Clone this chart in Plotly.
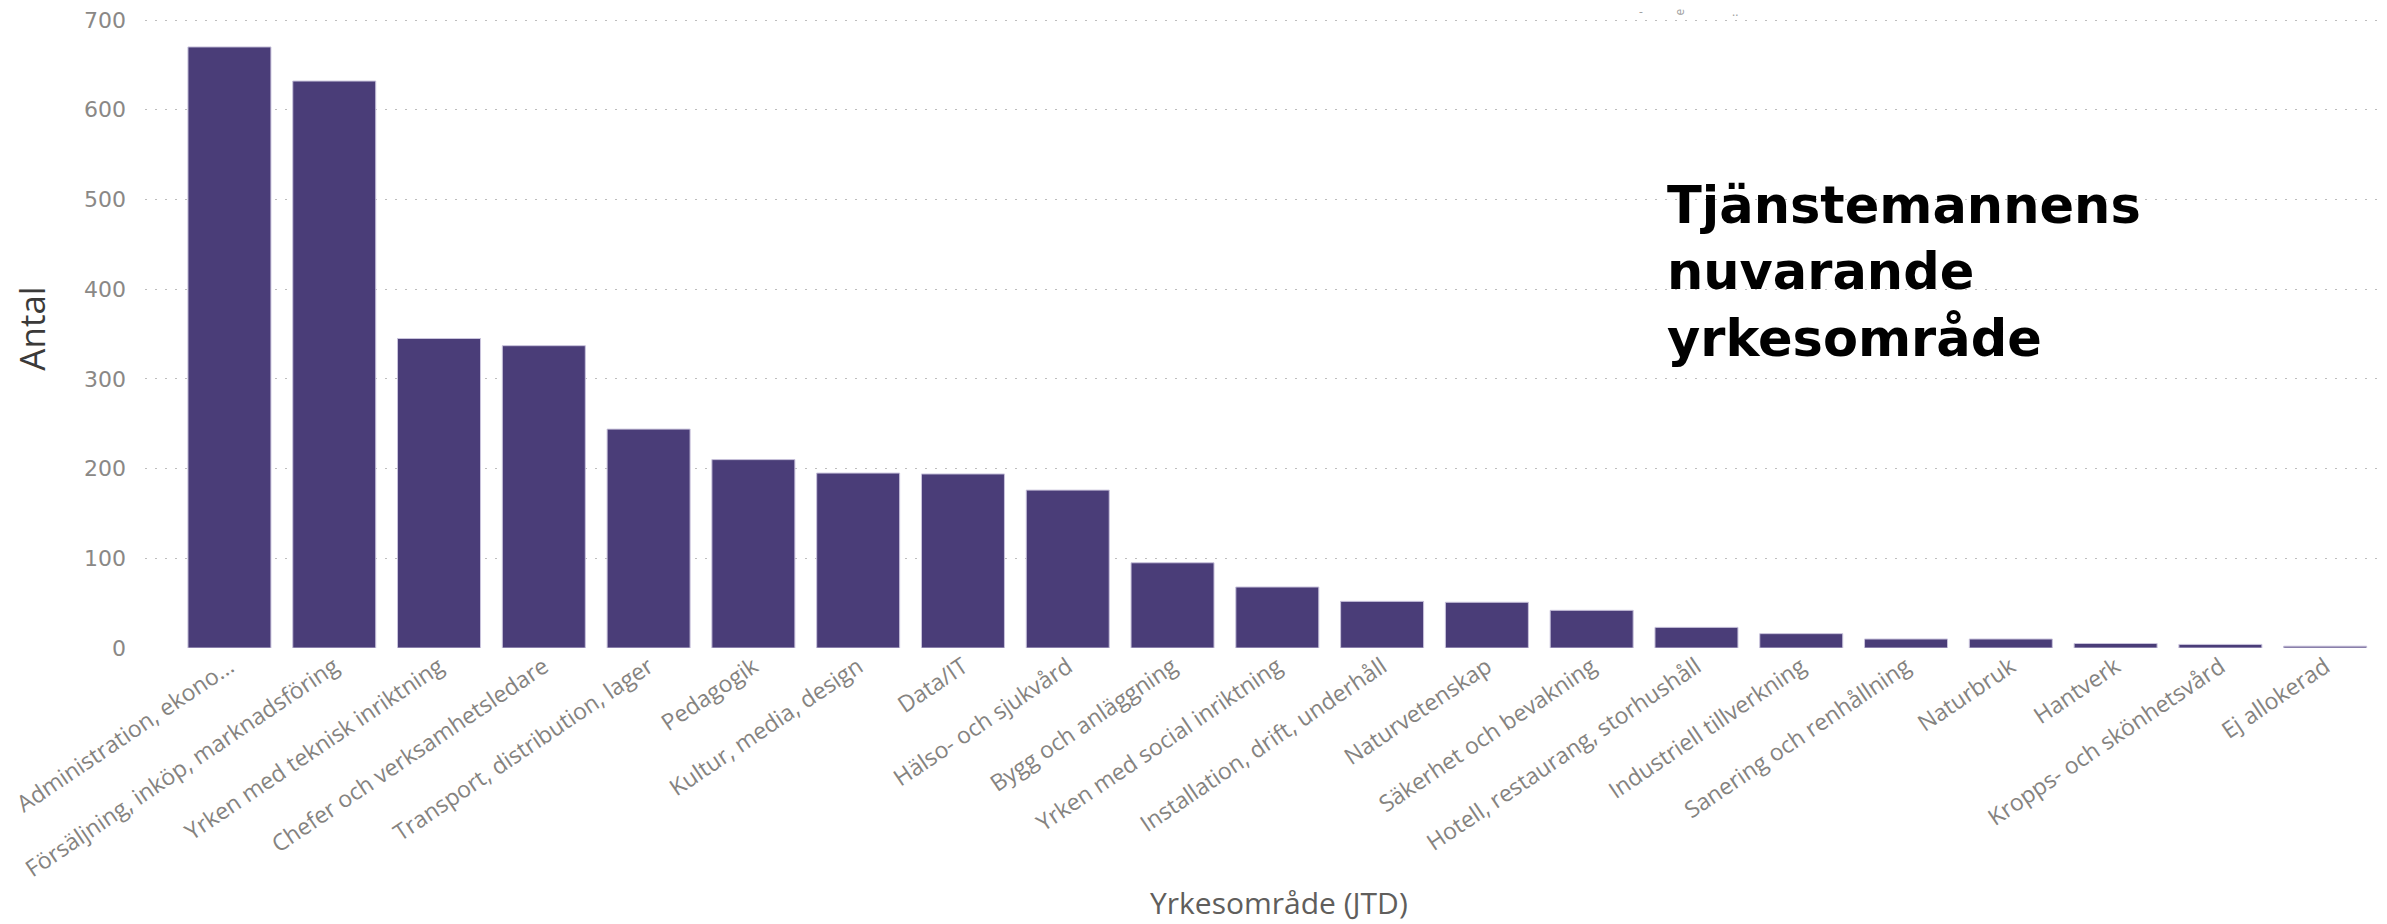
import plotly.graph_objects as go

categories = [
    "Administration, ekono...",
    "Försäljning, inköp, marknadsföring",
    "Yrken med teknisk inriktning",
    "Chefer och verksamhetsledare",
    "Transport, distribution, lager",
    "Pedagogik",
    "Kultur, media, design",
    "Data/IT",
    "Hälso- och sjukvård",
    "Bygg och anläggning",
    "Yrken med social inriktning",
    "Installation, drift, underhåll",
    "Naturvetenskap",
    "Säkerhet och bevakning",
    "Hotell, restaurang, storhushåll",
    "Industriell tillverkning",
    "Sanering och renhållning",
    "Naturbruk",
    "Hantverk",
    "Kropps- och skönhetsvård",
    "Ej allokerad",
]
values = [670, 632, 345, 337, 244, 210, 195, 194, 176, 95, 68, 52, 51, 42, 23, 16, 10, 10, 5, 4, 2]
y_ticks = [0, 100, 200, 300, 400, 500, 600, 700]

# the page body adds an 8px offset, so the figure is 8px smaller and
# all page coordinates below are shifted by 8px
OFF = 8
W, H = 2387 - OFF, 924 - OFF
# plot area on the page: left 145, top 9, bottom 648
ML, MR, MT, MB = 145 - OFF, 0, 1, 276
Y_TOP = 712.3  # value at the top edge of the plot area (700 gridline sits at page y=20)


def px_x(px):
    return (px - OFF - ML) / (W - ML - MR)


def px_y(py):
    return 1 - (py - OFF - MT) / (H - MT - MB)


fig = go.Figure(
    go.Bar(
        x=list(range(len(categories))),
        y=values,
        marker=dict(color="#4a3d78", line=dict(color="#c9c3dc", width=1)),
        hoverinfo="x+y",
    )
)

fig.update_layout(
    width=W,
    height=H,
    margin=dict(l=ML, r=MR, t=MT, b=MB),
    paper_bgcolor="white",
    plot_bgcolor="white",
    bargap=0.208,
    showlegend=False,
    font=dict(family="Open Sans", color="#605e5c"),
)

fig.update_xaxes(
    tickmode="array",
    tickvals=list(range(len(categories))),
    ticktext=categories,
    tickangle=-34,
    tickfont=dict(family="Open Sans", size=23, color="#858380"),
    range=[-0.806, 20.59],
    showgrid=False,
    showline=False,
    zeroline=False,
    ticks="",
    automargin=False,
)

fig.update_yaxes(
    range=[0, Y_TOP],
    tickmode="array",
    tickvals=y_ticks,
    tickfont=dict(family="DejaVu Sans", size=22, color="#8a8886"),
    ticklabeloverflow="allow",
    showgrid=True,
    gridcolor="#bdbdbd",
    griddash="2px,8px",
    gridwidth=1,
    zeroline=False,
    showline=False,
    ticks="",
    ticklabelstandoff=18,
    title=dict(
        text="Antal",
        font=dict(family="Open Sans", size=35, color="#3b3a39"),
        standoff=40,
    ),
    automargin=False,
)

# x-axis title placed below the rotated labels
fig.add_annotation(
    x=px_x(1279), y=px_y(902), xref="paper", yref="paper",
    xanchor="center", yanchor="middle",
    text="Yrkesområde (JTD)", showarrow=False,
    font=dict(family="Open Sans", size=30, color="#605e5c"),
)

fig.add_annotation(
    x=px_x(1665), y=px_y(272), xref="paper", yref="paper",
    xanchor="left", yanchor="middle",
    text="<b>Tjänstemannens<br>nuvarande<br>yrkesområde</b>",
    showarrow=False, align="left",
    font=dict(family="DejaVu Sans", size=51, color="black"),
)

# small fragment near the top edge
fig.add_annotation(x=px_x(1645), y=px_y(12), xref="paper", yref="paper",
                   yanchor="middle", text="-", showarrow=False,
                   font=dict(size=12, color="#a0a0a0"))
fig.add_annotation(x=px_x(1690), y=px_y(12), xref="paper", yref="paper",
                   yanchor="middle", text="e", textangle=-90, showarrow=False,
                   font=dict(size=12, color="#a0a0a0"))
fig.add_annotation(x=px_x(1740), y=px_y(12), xref="paper", yref="paper",
                   yanchor="middle", text="..", showarrow=False,
                   font=dict(size=12, color="#a0a0a0"))

fig.write_html("out.html")
